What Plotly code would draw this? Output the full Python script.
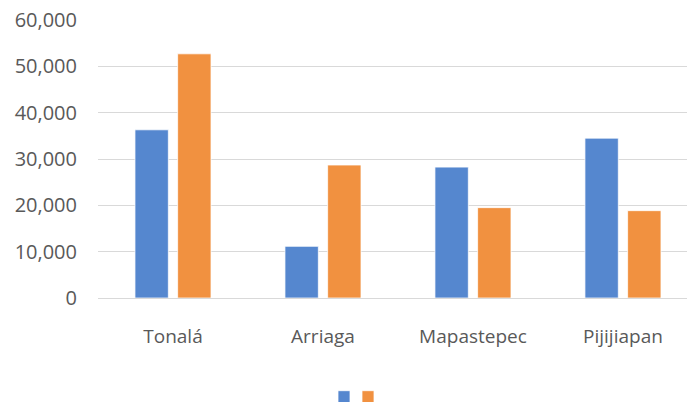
import plotly.graph_objects as go

categories = ["Tonalá", "Arriaga", "Mapastepec", "Pijijiapan"]
series_a = [36300, 11150, 28250, 34500]
series_b = [52700, 28700, 19500, 18850]
y_ticks = [0, 10000, 20000, 30000, 40000, 50000, 60000]

BLUE = "rgb(85,135,207)"
ORANGE = "rgb(241,145,64)"
FONT = "Open Sans"

fig = go.Figure()
fig.add_trace(go.Bar(x=categories, y=series_a, name="", legend="legend",
                     marker=dict(color=BLUE, line=dict(color="white", width=0.75))))
fig.add_trace(go.Bar(x=categories, y=series_b, name="", legend="legend2",
                     marker=dict(color=ORANGE, line=dict(color="white", width=0.75))))

leg_common = dict(orientation="h", yanchor="middle", xanchor="left", y=-0.355,
                  bgcolor="rgba(0,0,0,0)", font=dict(size=12))
fig.update_layout(
    width=687, height=402,
    margin=dict(l=98, r=0, t=20, b=104, autoexpand=False),
    paper_bgcolor="white", plot_bgcolor="white",
    barmode="group", bargap=0.431, bargroupgap=0.218,
    font=dict(family=FONT, size=19, color="#595959"),
    showlegend=True,
    legend=dict(x=(344 - 98 - 20) / 589, **leg_common),
    legend2=dict(x=(368 - 98 - 20) / 589, **leg_common),
)
fig.update_xaxes(range=[-0.5, 3.427], showgrid=False, showline=False, ticks="",
                 ticklabelstandoff=25, automargin=False)
fig.update_yaxes(range=[0, 60000], tickvals=y_ticks, tickformat=",", showgrid=True,
                 gridcolor="#D9D9D9", gridwidth=1, zeroline=True, zerolinecolor="#D9D9D9",
                 zerolinewidth=1, ticks="", ticklabelstandoff=20, showline=False,
                 automargin=False, tickfont=dict(size=20))

fig.write_html("out.html", config={"displayModeBar": False},
               post_script="document.body.style.margin='0';document.body.style.overflow='hidden';")
